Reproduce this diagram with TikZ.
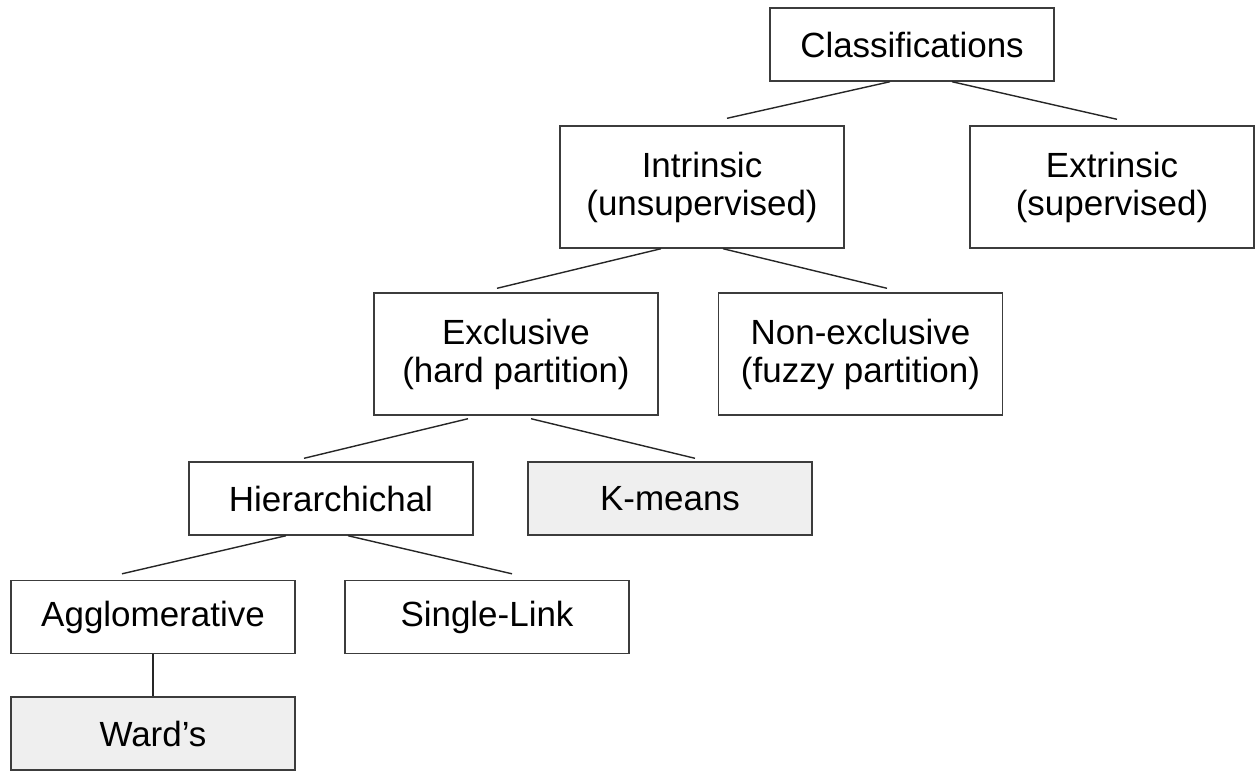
\documentclass[tikz,border=0pt]{standalone}
\usepackage{fontspec}
\setmainfont{Liberation Sans}
\usepackage{tikz}
\usepackage{xcolor}
\definecolor{leafgray}{HTML}{EFEFEF}
\definecolor{edgegray}{HTML}{3C3C3C}

\begin{document}
\begin{tikzpicture}[
		box/.style={draw=edgegray, line width=0.8pt, inner sep=0pt, minimum width=5.68cm, minimum height=1.46cm, align=center, font=\fontsize{19.9}{21.6}\selectfont, execute at begin node={\vspace*{5pt}}},
		tall/.style={box, minimum height=2.44cm},
		leaf/.style={box, fill=leafgray},
		link/.style={draw=black!85, line width=0.8pt}]
		\useasboundingbox (0,0) rectangle (25.12,-15.4);
		\draw (18.24,-0.89) node[box] (cls) {Classifications}
		(14.04,-3.74) node[tall] (intr) {Intrinsic\\(unsupervised)}
		(22.24,-3.74) node[tall] (extr) {Extrinsic\\(supervised)}
		(10.32,-7.08) node[tall] (excl) {Exclusive\\(hard partition)}
		(17.21,-7.08) node[tall] (nonex) {Non-exclusive\\(fuzzy partition)}
		(6.62,-9.97) node[box] (hier) {Hierarchichal}
		(13.40,-9.97) node[leaf] (kmeans) {K-means}
		(3.06,-12.34) node[box] (agg) {Agglomerative}
		(9.74,-12.34) node[box] (single) {Single-Link}
		(3.06,-14.67) node[leaf] (ward) {Ward’s};

		\draw[link] ([xshift=-0.44cm]cls.south) -- ([xshift=0.5cm,yshift=0.14cm]intr.north);
		\draw[link] ([xshift=0.80cm]cls.south) -- ([xshift=0.1cm,yshift=0.12cm]extr.north);
		\draw[link] ([xshift=-0.82cm]intr.south) -- ([xshift=-0.38cm,yshift=0.08cm]excl.north);
		\draw[link] ([xshift=0.42cm]intr.south) -- ([xshift=0.53cm,yshift=0.08cm]nonex.north);
		\draw[link] ([xshift=-0.96cm,yshift=-0.06cm]excl.south) -- ([xshift=-0.54cm,yshift=0.06cm]hier.north);
		\draw[link] ([xshift=0.30cm,yshift=-0.06cm]excl.south) -- ([xshift=0.5cm,yshift=0.06cm]kmeans.north);
		\draw[link] ([xshift=-0.9cm]hier.south) -- ([xshift=-0.62cm,yshift=0.12cm]agg.north);
		\draw[link] ([xshift=0.34cm]hier.south) -- ([xshift=0.5cm,yshift=0.12cm]single.north);
		\draw[link] (agg) -- (ward);
	\end{tikzpicture}
\end{document}
